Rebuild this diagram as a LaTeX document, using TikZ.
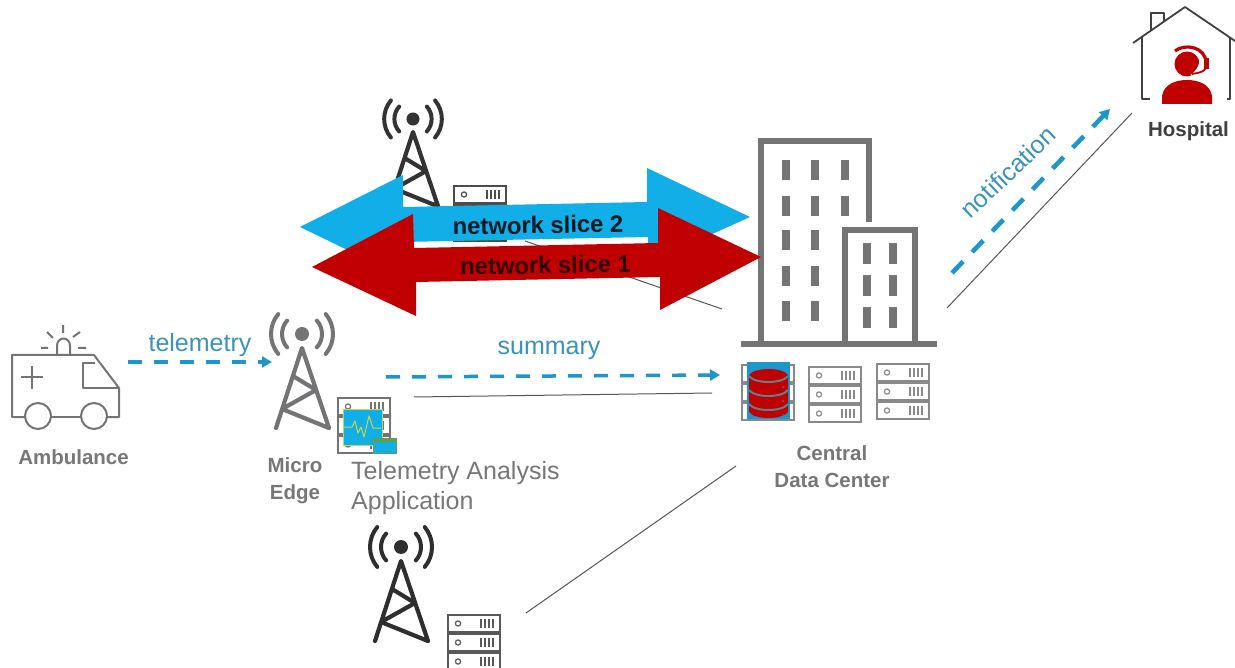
\documentclass[tikz,border=0pt]{standalone}
\usepackage{fontspec}
\setmainfont{Liberation Sans}
\usetikzlibrary{arrows.meta}
\definecolor{gtxt}{HTML}{777777}
\definecolor{gbld}{HTML}{747476}
\definecolor{skyb}{HTML}{11AEE8}
\definecolor{dashb}{HTML}{1C96CB}
\definecolor{btxt}{HTML}{3A93B8}
\definecolor{rdc}{HTML}{C00000}
\definecolor{thinc}{HTML}{555555}
\definecolor{yelc}{HTML}{C8D648}
\definecolor{grnc}{HTML}{5FA050}
\tikzset{
  lab/.style={font=\fontsize{25}{30}\selectfont,text=btxt,inner sep=0pt},
  blab/.style={font=\fontsize{20.5}{27}\bfseries\selectfont,text=gtxt,inner sep=0pt,align=center},
  slab/.style={font=\fontsize{23.8}{30}\bfseries\selectfont,inner sep=0pt,rotate=1},
  dasharrow/.style={dashb,line width=3.5pt,dash pattern=on 14pt off 12pt,-{Triangle[length=10pt,width=11pt]}},
  thinline/.style={thinc,line width=1pt},
  pics/towerpic/.style={code={
    \fill[#1] (0,0) circle[radius=7];
    \draw[#1,line width=4.2pt,line cap=round,line join=round] (-26,94) -- (0,14) -- (27,94) (-9,42) -- (14,56) -- (-20,75) -- (27,94);
    \draw[#1,line width=4pt,line cap=round]
      (138:20) arc[start angle=138,end angle=222,radius=20]
      (140:31) arc[start angle=140,end angle=220,radius=31]
      (42:20) arc[start angle=42,end angle=-42,radius=20]
      (40:31) arc[start angle=40,end angle=-40,radius=31];
  }},
  pics/srvrow/.style={code={
    \draw[#1,line width=1.5pt] (0,0) rectangle (52,17);
    \draw[#1,line width=1.2pt] (10,8.5) circle[radius=2.6];
    \draw[#1,line width=1.2pt] (33,4) -- (33,13) (37,4) -- (37,13) (41,4) -- (41,13) (45,4) -- (45,13);
  }},
  pics/rackpic/.style={code={
    \pic at (0,0) {srvrow={#1}};
    \pic at (0,19) {srvrow={#1}};
    \pic at (0,38) {srvrow={#1}};
  }},
}
\begin{document}
\begin{tikzpicture}[x=1pt,y=-1pt]
\clip (0,0) rectangle (1235,668);
\fill[white] (0,0) rectangle (1235,668);
% ---- named ends
\coordinate (l1a) at (525,241); \coordinate (l1b) at (722,309);
\coordinate (l2a) at (414,397); \coordinate (l2b) at (712,393);
\coordinate (l3a) at (526,613); \coordinate (l3b) at (736,466);
\coordinate (l4a) at (947,308); \coordinate (l4b) at (1132,113);
\coordinate (d1a) at (128,362); \coordinate (d1b) at (272,362);
\coordinate (d2a) at (386,377); \coordinate (d2b) at (720,375);
\coordinate (d3a) at (952,273); \coordinate (d3b) at (1110,109);
% ---- building
\begin{scope}[gbld]
\draw[line width=6pt,miter limit=5] (761,344) -- (761,141) -- (868.5,141) -- (868.5,222);
\draw[line width=6pt] (845,344) -- (845,230) -- (915,230) -- (915,344);
\fill (741,341) rectangle (937,347);
\foreach \xx in {782,811,841} \foreach \yy in {160,196} \fill (\xx,\yy) rectangle +(7.5,20.5);
\foreach \xx in {782,811} \foreach \yy in {230,266,301} \fill (\xx,\yy) rectangle +(7.5,20.5);
\foreach \xx in {863,889} \foreach \yy in {243,275,307} \fill (\xx,\yy) rectangle +(7.5,21);
\end{scope}
% ---- top site under the slices
\pic[scale=.93] at (413,119) {towerpic={black!80}};
\pic at (454,186) {rackpic={black!70}};
\draw[thinline] (l1a) -- (l1b);
% ---- slices
\fill[skyb] (300,227) -- (403,175) -- (403,207) -- (647,202) -- (647,168) -- (750,217) -- (648,263) -- (648,237) -- (403,242) -- (403,277) -- cycle;
\fill[rdc] (312,267) -- (413,214) -- (414,248) -- (658,243) -- (658,208) -- (761,257) -- (660,310) -- (660,277) -- (416,282) -- (416,316) -- cycle;
\node[slab,text=black!85!skyb] (s2) at (538,225) {network slice 2};
\node[slab,text=black!75!rdc] (s1) at (545.5,265) {network slice 1};
% ---- connectors
\draw[thinline] (l2a) -- (l2b);
\draw[thinline] (l3a) -- (l3b);
\draw[thinline] (l4a) -- (l4b);
\draw[dasharrow] (d1a) -- (d1b);
\draw[dasharrow] (d2a) -- (d2b);
\draw[dasharrow,line width=4.5pt,dash pattern=on 16pt off 13pt] (d3a) -- (d3b);
\node[lab] (tel) at (200,345) {telemetry};
\node[lab] (sum) at (549,350) {summary};
\node[lab,rotate=43.5] (not) at (1008,172) {notification};
% ---- ambulance
\begin{scope}[gbld,line width=2pt,line join=round]
\draw (25,417) -- (12,417) -- (12,355) -- (94,355) -- (119,388) -- (119,417) -- (107,417);
\draw (51,417) -- (81,417);
\draw (38,416) circle[radius=13];
\draw (94,416) circle[radius=13];
\draw (95,363) -- (83,363) -- (83,388) -- (119,388);
\draw (21,377) -- (43,377) (32,366) -- (32,389);
\draw (57,355) -- (57,346) .. controls (57,336) and (70,336) .. (70,346) -- (70,355);
\draw (63,325) -- (63,333) (47,332) -- (53,338) (80,332) -- (73,337) (41,348) -- (48,348) (78,348) -- (86,348);
\end{scope}
\node[blab] (amb) at (73.5,457) {Ambulance};
% ---- micro edge
\pic at (302,334) {towerpic={gbld}};
\pic at (338,398) {rackpic={gbld}};
\fill[skyb] (343,410) rectangle (382,445);
\draw[yelc,line width=1pt] (343,410) rectangle (382,445);
\draw[yelc,line width=1pt,line join=round] (344,427) -- (352,427) -- (355,421) -- (358,433) -- (361,427) -- (364,437) -- (369,416) -- (373,428) -- (381,428);
\fill[skyb] (373,438) rectangle (396,453);
\fill[grnc] (373,438) rectangle (396,442);
\draw[grnc,line width=1pt] (373,438) rectangle (396,453);
\node[blab,align=center] (mic) at (295,481) {Micro\\Edge};
\node[lab,text=gtxt,align=left,anchor=north west,font=\fontsize{25}{30}\selectfont] (app) at (351,461) {Telemetry Analysis\\Application};
% ---- bottom site
\pic at (401,547) {towerpic={black!82}};
\pic at (448,615) {rackpic={black!65}};
% ---- data center racks
\pic at (742,365) {rackpic={gbld!85}};
\pic at (809,367) {rackpic={gbld!85}};
\pic at (877,364) {rackpic={gbld!85}};
\fill[dashb] (747,362) rectangle (790,419);
\fill[rdc] (749,375) -- (749,412) .. controls (755,420) and (782,420) .. (788,412) -- (788,375) .. controls (782,367) and (755,367) .. (749,375) -- cycle;
\draw[gbld!80!skyb,line width=2pt] (749,376) .. controls (755,384) and (782,384) .. (788,376)
  (749,390) .. controls (755,398) and (782,398) .. (788,390)
  (749,404) .. controls (755,412) and (782,412) .. (788,404);
\fill[gbld!60!rdc] (783,387) circle[radius=1.4] (783,401) circle[radius=1.4] (783,415) circle[radius=1.4];
\node[blab] (cdc) at (832,466.5) {Central\\Data Center};
% ---- hospital
\begin{scope}[black!75,line width=1.8pt,line join=round]
\draw (1133,43) -- (1185,7) -- (1238,43);
\draw (1150,99) -- (1142,99) -- (1142,37);
\draw (1227,99) -- (1230,99) -- (1230,37);
\draw (1151,30) -- (1151,13) -- (1164,13) -- (1164,21);
\end{scope}
\fill[rdc] (1162,104) -- (1162,96) .. controls (1164,84) and (1176,80) .. (1187,80) .. controls (1198,80) and (1210,84) .. (1212,96) -- (1212,104) -- cycle;
\fill[rdc] (1187,64) circle[radius=12.5];
\draw[rdc,line width=3.2pt] (1175,51) .. controls (1185,43) and (1205,47) .. (1206,62);
\fill[rdc] (1204,58) rectangle (1209,69);
\draw[white,line width=2pt] (1200,55) .. controls (1202,62) and (1199,70) .. (1191,76);
\draw[rdc,line width=1.8pt] (1206,68) .. controls (1204,72) and (1198,73) .. (1192,74);
\node[blab,text=black!75] (hos) at (1188.5,131) {Hospital};
\end{tikzpicture}
\end{document}
